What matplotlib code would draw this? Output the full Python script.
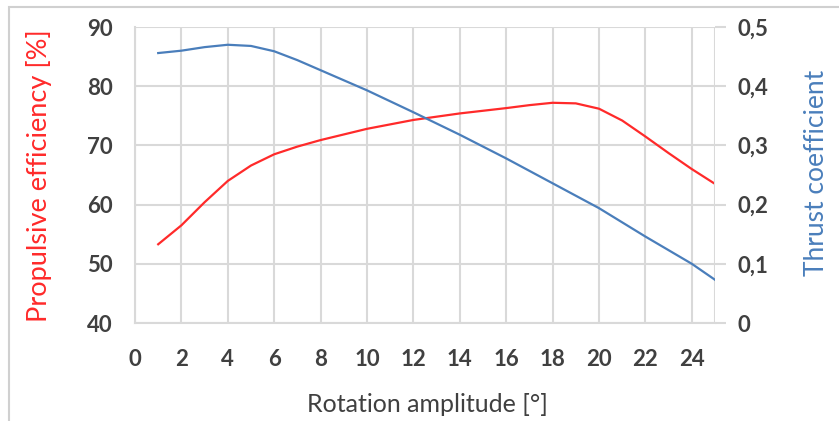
import matplotlib.pyplot as plt
from matplotlib.patches import Rectangle

# data
amplitude = [1, 2, 3, 4, 5, 6, 7, 8, 10, 12, 14, 16, 17, 18, 19, 20, 21, 22, 23, 24, 25]
efficiency = [53.3, 56.5, 60.4, 64.0, 66.6, 68.5, 69.8, 70.9, 72.8, 74.3, 75.4, 76.3, 76.8, 77.2, 77.1, 76.2, 74.2, 71.5, 68.7, 66.0, 63.5]
thrust = [0.456, 0.460, 0.466, 0.470, 0.468, 0.459, 0.444, 0.427, 0.393, 0.356, 0.318, 0.278, 0.257, 0.236, 0.215, 0.194, 0.170, 0.146, 0.123, 0.100, 0.073]

x_ticks = list(range(0, 25, 2))
left_ticks = [40, 50, 60, 70, 80, 90]
right_ticks = [0, 0.1, 0.2, 0.3, 0.4, 0.5]
right_labels = ["0", "0,1", "0,2", "0,3", "0,4", "0,5"]

red = "#ff2a2a"
blue = "#4a7ebb"
grid_col = "#d9d9d9"
text_col = "#404040"

plt.rcParams['font.family'] = ['Lato', 'DejaVu Sans']

fig = plt.figure(figsize=(8.39, 4.21), dpi=100)
fig.patches.append(Rectangle((9 / 839, -0.1), 1.0, (421 - 7) / 421 + 0.1, transform=fig.transFigure,
                             fill=False, edgecolor="#d0d0d0", linewidth=1.5))

ax = fig.add_axes([135 / 839, (421 - 323) / 421, (715 - 135) / 839, (323 - 27) / 421])
ax2 = ax.twinx()

ax.plot(amplitude, efficiency, color=red, linewidth=1.6)
ax2.plot(amplitude, thrust, color=blue, linewidth=1.6)

ax.set_xlim(0, 25)
ax.set_ylim(40, 90)
ax2.set_ylim(0, 0.5)
ax.set_xticks(x_ticks)
ax.set_yticks(left_ticks)
ax2.set_yticks(right_ticks)
ax2.set_yticklabels(right_labels)

ax.grid(True, color=grid_col, linewidth=1.5)
ax.axvline(25, color=grid_col, linewidth=1.5)
ax.set_axisbelow(True)

for a in (ax, ax2):
    for s in a.spines.values():
        s.set_visible(False)
ax.spines['left'].set_visible(True)
ax.spines['left'].set_color(grid_col)
ax.spines['left'].set_linewidth(1.5)
ax.spines['bottom'].set_visible(True)
ax.spines['bottom'].set_color(grid_col)
ax.spines['bottom'].set_linewidth(1.5)

ax.tick_params(axis='x', length=0, pad=19, labelsize=16, labelcolor=text_col)
ax.tick_params(axis='y', length=0, pad=16, labelsize=16, labelcolor=text_col)
ax2.tick_params(axis='y', length=8, width=1.5, color=grid_col, pad=8, labelsize=16, labelcolor=text_col)
for lbl in ax.get_xticklabels() + ax.get_yticklabels() + ax2.get_yticklabels():
    lbl.set_fontweight('bold')

# axis titles placed where the reference has them
fig.text(427 / 839, 1 - 405 / 421, 'Rotation amplitude [°]', fontsize=18, color=text_col,
         ha='center', va='center')
fig.text(39 / 839, 1 - 176 / 421, 'Propulsive efficiency [%]', fontsize=19.5, color=red,
         rotation=90, ha='center', va='center')
fig.text(817 / 839, 1 - 173 / 421, 'Thrust coefficient', fontsize=19, color=blue,
         rotation=90, ha='center', va='center')

fig.savefig('out.png', dpi=100)
